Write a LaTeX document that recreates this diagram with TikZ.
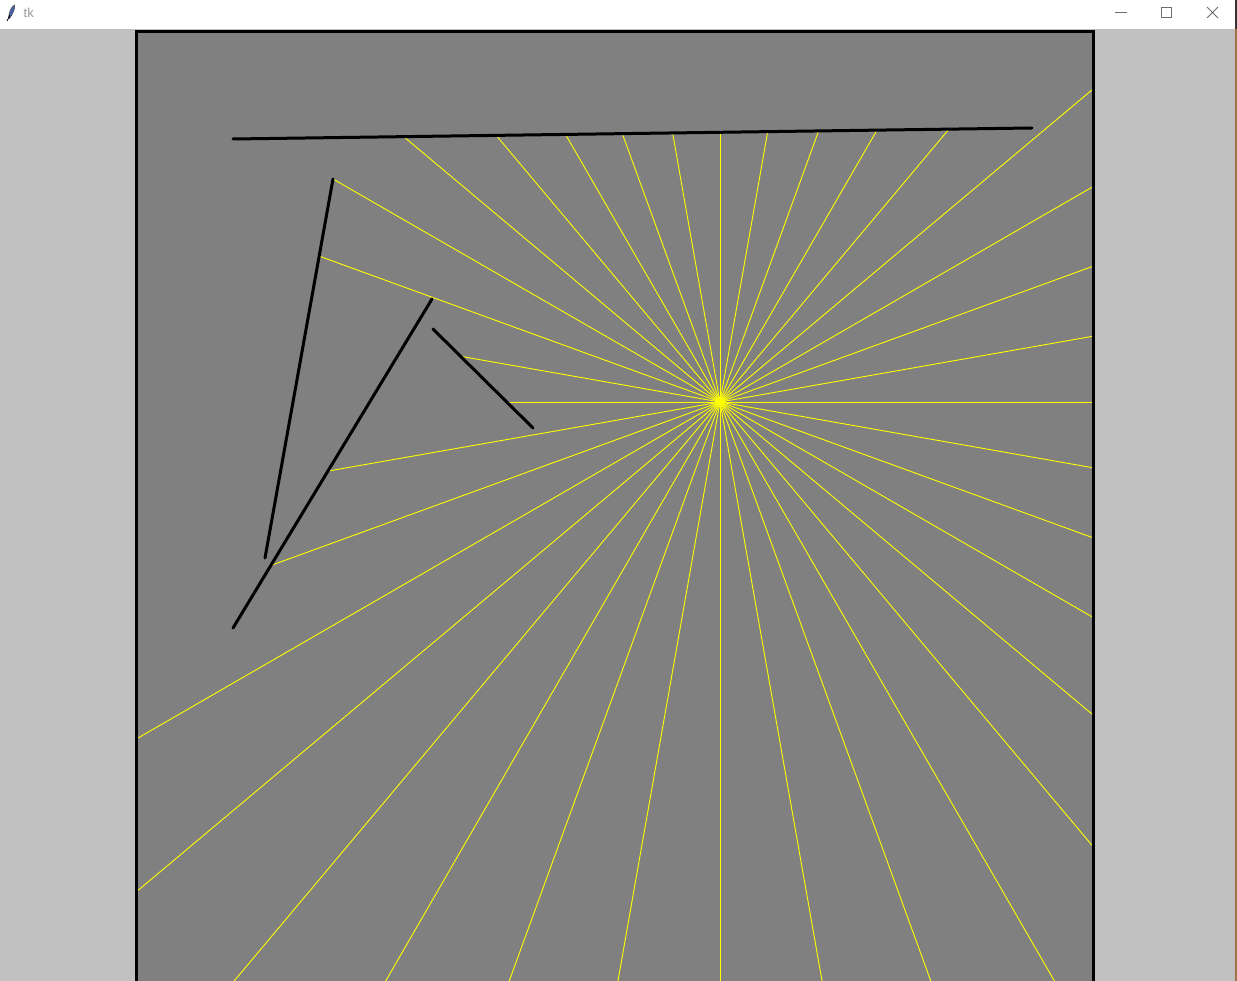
\documentclass[tikz,border=0pt]{standalone}
\usepackage{fontspec}
\setmainfont{Liberation Sans}
\definecolor{winbg}{RGB}{192,192,192}
\definecolor{canvasbg}{RGB}{128,128,128}
\definecolor{ray}{RGB}{255,255,0}
\definecolor{titletext}{RGB}{153,153,153}
\definecolor{ctrl}{RGB}{110,110,110}
\definecolor{feather}{RGB}{70,100,170}
\definecolor{edgestrip}{RGB}{160,114,74}
\begin{document}
\begin{tikzpicture}[x=1pt,y=-1pt,
  wall/.style={black,line width=3pt,line cap=round},
  raystyle/.style={ray,line width=0.9pt},
  ctrlline/.style={ctrl,line width=0.9pt}]
\useasboundingbox (0,0) rectangle (1237,981);
\clip (0,0) rectangle (1237,981);
% window background
\fill[winbg] (0,0) rectangle (1237,981);
% title bar
\fill[white] (0,0) rectangle (1237,29);
\fill[feather,draw=black!70,line width=0.5pt] (8.5,18) .. controls (9,12) and (11,7) .. (14.5,5) .. controls (15.5,8) and (13,14) .. (9.5,18.5) -- cycle;
\draw[black,line width=0.8pt] (7,21) -- (10,15);
\node[anchor=west,text=titletext,font=\fontsize{13}{13}\selectfont,inner sep=0] (title) at (23.5,13) {tk};
\draw[ctrlline] (1115,12) -- (1127,12);
\draw[ctrlline] (1161,7) rectangle (1171,17);
\draw[ctrlline] (1207,7) -- (1218,18) (1218,7) -- (1207,18);
\fill[edgestrip] (1235,29) rectangle (1237,981);
\fill[black!80] (1235,0) rectangle (1237,29);
% canvas
\fill[canvasbg] (136.5,31.5) rectangle (1093,1010);
% light source
\coordinate (L) at (720,402);
% rays
\foreach \p in {
  (1092,402),(1092,467.6),(1092,537.4),(1092,616.8),(1092,714.1),(1092,845.3),
  (1092,1046),(937.7,1000),(825.4,1000),(720,1000),(614.6,1000),(502.3,1000),
  (374.7,1000),(218.2,1000),(138,890.4),(138,738),
  (270.8,565.5),(327.9,471.1),(506.7,402),(460.6,356.3),(319.1,256.1),(333,179),
  (403.7,136.6),(496.2,135.4),(565.5,134.4),(622.3,133.6),(672.6,132.9),(720,132.3),
  (767.7,131.6),(818.6,131),(877,130.1),(948.9,129.2),
  (1092,89.9),(1092,187.2),(1092,266.6),(1092,336.4)}
  \draw[raystyle] (L) -- \p;
\fill[ray] (L) ++(-6,0) -- ++(6,-6) -- ++(6,6) -- ++(-6,6) -- cycle;
% walls
\coordinate (w1a) at (233,139); \coordinate (w1b) at (1032,128);
\coordinate (w2a) at (333,179); \coordinate (w2b) at (265,558);
\coordinate (w3a) at (432,299); \coordinate (w3b) at (233,628);
\coordinate (w4a) at (433,329); \coordinate (w4b) at (533,428);
\draw[wall] (w1a) -- (w1b);
\draw[wall] (w2a) -- (w2b);
\draw[wall] (w3a) -- (w3b);
\draw[wall] (w4a) -- (w4b);
% canvas border
\draw[black,line width=3pt] (136.5,1010) -- (136.5,31.5) -- (1093,31.5) -- (1093,1010);
\end{tikzpicture}
\end{document}
